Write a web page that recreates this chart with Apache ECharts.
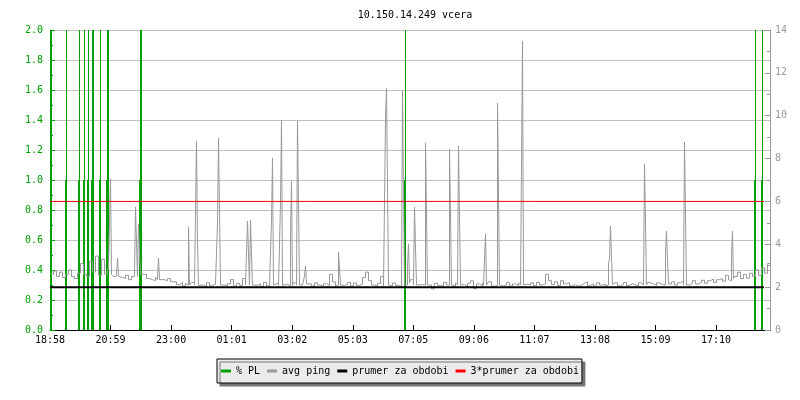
<!DOCTYPE html>
<html><head><meta charset="utf-8">
<script src="https://cdn.jsdelivr.net/npm/echarts@6/dist/echarts.min.js"></script>
<style>html,body{margin:0;padding:0;background:#fff}#c{width:800px;height:400px}</style>
</head><body><div id="c"></div>
<script>
// ---- data (x in minutes since 18:58, left axis % PL, right axis ms) ----
const titleText = '10.150.14.249 vcera';
const xTickLabels = ['18:58','20:59','23:00','01:01','03:02','05:03','07:05','09:06','11:07','13:08','15:09','17:10'];
const xTickStep = 121.1;
const spanMinutes = 1440;
const seriesNames = ['% PL', 'avg ping', 'prumer za obdobi', '3*prumer za obdobi'];

// packet-loss samples [minute, %]
const plSamples = [[3,1],[33,1],[59,1],[69,1],[77,1],[85,1],[87,1],[101,1],[115,1],[117,1],[181,1],[183,1],[711,1],[1411,1],[1425,1]];

// avg ping baseline, one value every 6 minutes starting at minute 1
const pingStep = 6;
const pingBase = [
2.6,2.75,2.5,2.7,2.45,2.6,2.8,2.5,2.4,2.65,3.1,2.6,2.5,3.2,2.7,3.45,2.55,3.3,2.6,2.75,2.9,2.5,2.7,2.45,2.4,2.55,2.35,2.5,2.6,2.7,2.45,2.6,2.4,2.35,
2.3,2.45,2.4,2.35,2.3,2.4,2.25,
2.25,2.12,2.2,2.05,2.18,2.08,2.22,2.04,2.15,2.1,2.03,2.2,2.08,2.14,2.05,2.2,2.1,2.06,2.16,2.35,
2.05,2.18,2.08,2.4,2.12,2.04,2.2,2.08,2.15,2.03,2.22,2.06,2.12,2.05,2.18,2.08,2.04,2.14,2.05,2.1,
2.2,2.04,2.12,2.06,2.3,2.15,2.05,2.2,2.1,2.04,2.16,2.07,2.6,2.25,2.05,2.18,2.08,2.12,2.22,2.05,
2.2,2.08,2.15,2.45,2.7,2.3,2.1,2.04,2.18,2.5,2.06,2.14,2.05,2.2,2.08,2.03,2.16,2.1,2.25,2.35,
2.15,2.05,2.12,2.2,2.06,2.1,1.92,2.18,2.08,2.04,2.22,2.1,2.15,2.05,2.2,2.08,2.12,2.04,2.18,2.3,
1.93,2.15,2.06,2.2,2.08,2.25,2.04,2.12,2.18,2.06,2.1,2.22,2.05,2.15,2.08,2.2,2.04,2.14,2.1,2.2,
2.06,2.22,2.1,2.15,2.6,2.3,2.12,2.25,2.08,2.3,2.15,2.22,2.06,2.12,2.04,2.1,2.18,2.25,2.08,2.15,
2.05,2.2,2.1,2.14,2.04,2.18,2.1,2.2,2.06,2.12,2.22,2.08,2.16,2.1,2.05,2.2,2.25,2.12,2.22,2.15,
2.08,2.2,2.12,2.06,2.22,2.15,2.25,2.1,2.2,2.28,2.12,2.22,2.18,2.3,2.15,2.22,2.32,2.18,2.3,2.38,
2.22,2.35,2.4,2.28,2.55,2.35,2.45,2.5,2.7,2.4,2.6,2.42,2.65,2.5,2.8,2.55,2.9,2.65,3.1,2.75
];

// ping spikes [minute, ms], each group starts and ends at the surrounding level
const pingSpikes = [
[[117,2.9],[119,5.1],[121,7.05],[123,2.6]],
[[133,2.6],[135,3.36],[137,2.5]],
[[169,2.6],[171,5.74],[173,4.06],[175,2.5],[177,4.95],[179,3.64],[181,2.6]],
[[215,2.35],[217,3.36],[219,2.35]],
[[275,2.1],[277,4.81],[279,2.1]],
[[289,2.1],[291,5.41],[293,8.82],[295,4.15],[297,2.08]],
[[333,2.1],[335,5.04],[337,8.96],[339,5.5],[341,2.1]],
[[393,2.1],[395,5.09],[397,3.55],[399,2.1],[401,5.13],[403,3.55],[405,2.1]],
[[441,2.1],[443,5.09],[445,8.03],[447,2.1]],
[[459,2.08],[461,5.93],[463,9.8],[465,2.08]],
[[479,2.06],[481,4.43],[483,6.95],[485,2.08]],
[[493,2.1],[495,9.75],[497,5.88],[499,2.1]],
[[507,2.1],[509,2.52],[511,2.99],[513,2.15]],
[[575,2.1],[577,3.64],[579,2.85],[581,2.1]],
[[669,2.1],[671,9.9],[673,11.28],[675,6.62],[677,2.1]],
[[703,2.1],[705,11.18],[707,6.58],[709,2.1]],
[[713,2.1],[715,3.03],[717,4.01],[719,2.2]],
[[727,2.1],[729,5.74],[731,3.87],[733,2.1]],
[[749,2.1],[751,8.73],[753,5.37],[755,2.1]],
[[797,2.1],[799,8.45],[801,5.32],[803,2.1]],
[[815,2.1],[817,8.59],[819,5.27],[821,2.1]],
[[867,2.1],[869,3.27],[871,4.48],[873,2.1]],
[[893,2.1],[895,10.59],[897,6.3],[899,2.1]],
[[941,2.1],[943,7.75],[945,13.49],[947,2.1]],
[[1115,2.1],[1117,3.12],[1119,3.3],[1121,4.85],[1123,3.41],[1125,2.1]],
[[1187,2.1],[1189,7.75],[1191,4.99],[1193,2.1]],
[[1229,2.1],[1231,3.64],[1233,4.62],[1235,3.3],[1237,2.15]],
[[1267,2.1],[1269,8.77],[1271,5.41],[1273,2.1]],
[[1361,2.3],[1363,3.45],[1365,4.62],[1367,2.4]]
];

const avgPing = 2.0;     // ms
const avgEndMinute = 1428;

// ---- colours ----
const GREEN = '#00a000', GRAY = '#999999', BLACK = '#000000', RED = '#ff0000';
const FONT = 'DejaVu Sans Mono';

// ---- build ping series ----
const pingData = (() => {
  const spans = pingSpikes.map(c => [c[0][0], c[c.length - 1][0]]);
  const pts = [];
  pingBase.forEach((v, i) => {
    const t = i * pingStep + 1;
    if (!spans.some(s => t >= s[0] && t <= s[1])) pts.push([t, v]);
  });
  pingSpikes.forEach(c => c.forEach(p => pts.push(p)));
  pts.sort((a, b) => a[0] - b[0]);
  return pts;
})();

const xTickValues = xTickLabels.map((_, i) => +(i * xTickStep).toFixed(1));

// % PL: a 2px column up to the value plus a full-height tick (rrdtool TICK style)
function renderPL(params, api) {
  const t = api.value(0), v = api.value(1);
  const base = api.coord([t, 0]);
  const top = api.coord([t, v]);
  const cs = params.coordSys;
  const px = Math.floor(base[0]);
  return {
    type: 'group',
    children: [
      {type: 'rect', shape: {x: px - 1, y: top[1], width: 2, height: base[1] - top[1]}, style: {fill: GREEN}},
      {type: 'rect', shape: {x: px, y: cs.y, width: 1, height: cs.height}, style: {fill: GREEN}}
    ]
  };
}

const chart = echarts.init(document.getElementById('c'), null, {renderer: 'canvas'});
chart.setOption({
  animation: false,
  backgroundColor: '#ffffff',
  textStyle: {fontFamily: FONT},
  title: {
    text: titleText, left: 410, top: 5, textAlign: 'center',
    textStyle: {fontFamily: FONT, fontSize: 10, fontWeight: 'normal', color: '#000'}
  },
  grid: {left: 50, right: 30, top: 30, bottom: 70, containLabel: false, outerBoundsMode: 'none'},
  legend: {
    data: seriesNames, left: 217, top: 359, orient: 'horizontal',
    icon: 'rect', itemWidth: 10, itemHeight: 3, itemGap: 7,
    padding: [6, 3, 6, 4],
    backgroundColor: '#ebebeb', borderColor: '#000', borderWidth: 1,
    shadowColor: '#777777', shadowOffsetX: 3, shadowOffsetY: 3, shadowBlur: 0.01,
    selectedMode: false,
    textStyle: {fontFamily: FONT, fontSize: 10, color: '#000', lineHeight: 12}
  },
  xAxis: {
    type: 'value', min: 0, max: spanMinutes, interval: xTickStep,
    axisLine: {show: true, lineStyle: {color: BLACK, width: 1}},
    axisTick: {show: true, inside: true, length: 5, lineStyle: {color: BLACK}, customValues: xTickValues.slice(1)},
    axisLabel: {
      show: true, margin: 5, color: '#000', fontFamily: FONT, fontSize: 10,
      customValues: xTickValues,
      formatter: v => { const k = Math.round(v / xTickStep); return xTickLabels[k] || ''; }
    },
    splitLine: {show: false}
  },
  yAxis: [
    {
      type: 'value', min: 0, max: 2, interval: 0.2, position: 'left',
      axisLine: {show: true, lineStyle: {color: GREEN, width: 1}},
      axisTick: {show: true, inside: true, length: 5, lineStyle: {color: GREEN}},
      minorTick: {show: true, splitNumber: 2, length: 3, lineStyle: {color: GREEN}},
      axisLabel: {show: true, margin: 7, color: GREEN, fontFamily: FONT, fontSize: 10, formatter: v => v.toFixed(1)},
      splitLine: {show: true, lineStyle: {color: '#c0c0c0', width: 1}}
    },
    {
      type: 'value', min: 0, max: 14, interval: 2, position: 'right',
      axisLine: {show: true, lineStyle: {color: GRAY, width: 1}},
      axisTick: {show: true, inside: true, length: 5, lineStyle: {color: GRAY}},
      minorTick: {show: true, splitNumber: 2, length: 3, lineStyle: {color: GRAY}},
      axisLabel: {show: true, margin: 5, color: GRAY, fontFamily: FONT, fontSize: 10},
      splitLine: {show: false}
    }
  ],
  series: [
    {
      name: seriesNames[0], type: 'custom', yAxisIndex: 0, z: 2,
      data: plSamples, renderItem: renderPL, clip: true,
      encode: {x: 0, y: 1},
      color: GREEN, itemStyle: {color: GREEN},
      emphasis: {disabled: true}, silent: true
    },
    {
      name: seriesNames[1], type: 'line', yAxisIndex: 1, z: 3,
      data: pingData, step: 'end', symbol: 'none', showSymbol: false,
      color: GRAY, lineStyle: {color: GRAY, width: 1}, itemStyle: {color: GRAY},
      emphasis: {disabled: true}
    },
    {
      name: seriesNames[2], type: 'line', yAxisIndex: 1, z: 4,
      data: [[0, avgPing], [avgEndMinute, avgPing]], symbol: 'none', showSymbol: false,
      color: BLACK, lineStyle: {color: BLACK, width: 2}, itemStyle: {color: BLACK},
      emphasis: {disabled: true}
    },
    {
      name: seriesNames[3], type: 'line', yAxisIndex: 1, z: 5,
      data: [[0, 3 * avgPing], [avgEndMinute, 3 * avgPing]], symbol: 'none', showSymbol: false,
      color: RED, lineStyle: {color: RED, width: 1}, itemStyle: {color: RED},
      emphasis: {disabled: true}
    }
  ]
});
</script>
</body></html>
